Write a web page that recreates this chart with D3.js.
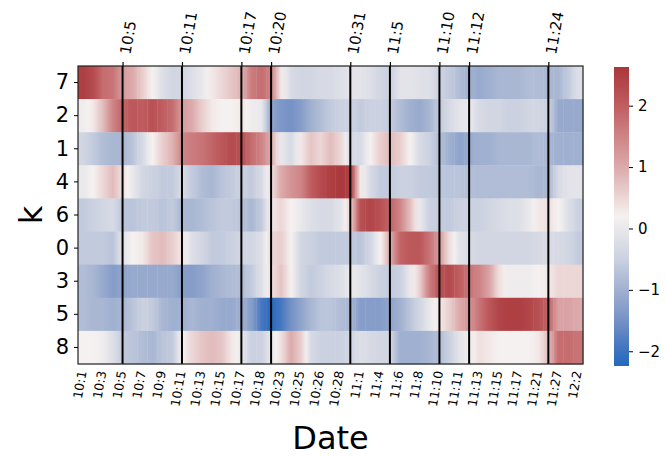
<!DOCTYPE html>
<html>
<head>
<meta charset="utf-8">
<script src="https://cdn.jsdelivr.net/npm/d3@7"></script>
<style>
  body { margin: 0; background: #fff; }
  text { font-family: "DejaVu Sans", sans-serif; }
</style>
</head>
<body>
<script>
// rows (k) top to bottom
var kRows = ["7", "2", "1", "4", "6", "0", "3", "5", "8"];

// one column per observation, every other one is labelled
var dates = ["10:1", "10:2", "10:3", "10:4", "10:5", "10:6", "10:7", "10:8", "10:9", "10:10",
  "10:11", "10:12", "10:13", "10:14", "10:15", "10:16", "10:17", "10:17", "10:18", "10:20",
  "10:23", "10:24", "10:25", "10:25", "10:26", "10:27", "10:28", "10:31", "11:1", "11:3",
  "11:4", "11:5", "11:6", "11:7", "11:8", "11:9", "11:10", "11:10", "11:11", "11:12",
  "11:13", "11:14", "11:15", "11:16", "11:17", "11:19", "11:21", "11:24", "11:27", "11:30",
  "12:2"];

// marked dates on the top axis
var events = ["10:5", "10:11", "10:17", "10:20", "10:31", "11:5", "11:10", "11:12", "11:24"];

var row7 = [2.5, 2.3, 1.8, 1.7, 1.2, 1.0, 0.6, 0.2, -0.2, -0.4, -0.4, -0.2, 0.0, 0.3, 0.5, 0.7, 0.9,
  1.6, 1.8, 1.5, 0.3, -0.3, -0.4, -0.4, -0.3, -0.3, -0.2, -0.1, -0.1, -0.2, -0.4, -0.5,
  -0.1, -0.1, -0.15, -0.2, -0.5, -0.6, -0.8, -1.0, -1.1, -1.0, -0.9, -0.9, -0.9, -0.8, -0.8, -0.9,
  -0.9, -0.6, -0.2];
var row2 = [0.1, 0.3, 0.8, 1.5, 1.9, 2.1, 2.0, 2.2, 2.0, 1.8, 1.2, 1.0, 0.6, 0.3, 0.2, 0.2, 0.3,
  0.1, 0.0, -1.2, -1.4, -1.5, -1.3, -1.0, -0.8, -0.6, -0.5, -0.5, -0.6, -0.5, -0.5, -0.6,
  -0.8, -1.0, -1.1, -0.9, -0.6, -0.3, -0.1, 0.0, -0.3, -0.4, -0.4, -0.5, -0.5, -0.4, -0.4, -0.5,
  -1.1, -1.1, -1.1];
var row1 = [-0.4, -0.6, -0.8, -0.9, -0.9, -0.7, -0.3, 0.2, 0.6, 0.9, 1.5, 1.6, 1.7, 1.9, 2.1, 2.3, 2.2,
  1.8, 1.5, 1.0, 0.0, -0.3, 0.3, 0.7, 0.5, 0.8, 0.5, -0.3, -0.3, 0.2, 0.6, 0.8,
  0.6, 0.2, -0.3, -0.5, -0.8, -1.0, -1.2, -1.1, -1.0, -1.0, -0.9, -0.9, -0.9, -0.9, -0.8, -0.9,
  -1.0, -1.0, -1.0];
var row4 = [0.0, 0.2, 0.5, 0.8, 0.4, 0.0, -0.4, -0.5, -0.6, -0.6, -0.3, -0.6, -0.8, -0.9, -0.7, -0.6, -0.5,
  -0.6, -0.3, 0.4, 1.0, 1.3, 1.5, 2.0, 2.3, 2.5, 2.6, 2.5, 0.3, -0.3, -0.6, -0.6,
  -0.5, -0.5, -0.6, -0.6, -0.7, -0.7, -0.7, -0.8, -0.8, -0.8, -0.8, -0.8, -0.8, -0.8, -0.9, -0.9,
  -0.3, -0.1, -0.1];
var row6 = [-0.6, -0.5, -0.4, -0.3, -0.7, -0.7, -0.6, -0.6, -0.7, -0.6, -0.9, -0.9, -0.8, -0.7, -0.6, -0.6, -0.7,
  -0.9, -0.6, 0.3, 0.5, 0.2, 0.0, -0.2, -0.3, -0.3, -0.1, 0.6, 2.2, 2.4, 2.2, 1.9,
  1.5, 0.8, 0.0, -0.5, -0.6, -0.6, -0.5, -0.5, -0.5, -0.4, -0.3, -0.2, -0.2, 0.0, 0.3, 0.4,
  0.2, -0.2, -0.5];
var row0 = [-0.6, -0.6, -0.6, -0.7, -0.1, 0.2, 0.3, 0.7, 0.8, 0.6, 0.3, -0.2, -0.4, -0.6, -0.6, -0.5, -0.4,
  -0.4, -0.2, 0.5, 0.6, 0.2, -0.4, -0.5, -0.6, -0.6, -0.6, -0.6, -0.7, -0.4, 0.2, 1.0,
  1.9, 2.1, 2.1, 1.7, 1.2, 0.4, -0.1, -0.3, -0.4, -0.4, -0.4, -0.4, -0.4, -0.4, -0.3, -0.3,
  -0.3, -0.4, -0.6];
var row3 = [-0.8, -0.9, -1.1, -1.3, -1.2, -1.1, -1.1, -1.1, -1.1, -1.1, -1.3, -1.3, -1.2, -1.0, -0.9, -0.8, -0.8,
  -0.6, -0.2, 0.4, 0.7, 0.2, -0.4, -0.6, -0.5, -0.3, -0.2, 0.0, -0.1, -0.3, -0.5, -0.6,
  -0.5, 0.0, 0.6, 1.6, 2.2, 2.3, 2.0, 1.7, 1.5, 1.1, 0.4, 0.1, 0.1, 0.1, 0.2, 0.3,
  0.5, 0.5, 0.5];
var row5 = [-0.8, -0.9, -0.9, -1.0, -0.9, -0.7, -0.5, -0.6, -0.9, -1.0, -1.0, -0.9, -1.0, -1.0, -1.1, -1.1, -1.0,
  -1.3, -1.9, -2.2, -1.9, -1.5, -1.2, -0.9, -0.7, -0.7, -0.8, -0.9, -1.3, -1.3, -1.3, -1.2,
  -1.0, -0.7, -0.4, 0.0, 0.3, 0.6, 1.0, 1.3, 1.7, 2.1, 2.4, 2.5, 2.5, 2.4, 2.2, 1.9,
  1.1, 1.1, 1.0];
var row8 = [0.2, 0.2, 0.1, -0.2, -0.6, -0.7, -0.8, -0.9, -0.7, -0.6, 0.2, 0.5, 0.7, 0.8, 0.7, 0.3, 0.0,
  -0.5, -0.5, 0.0, 0.4, 1.0, 0.6, -0.3, -0.5, -0.5, -0.5, -0.4, -0.2, -0.3, -0.4, -0.4,
  -1.0, -1.0, -1.0, -0.9, -0.8, -0.5, -0.1, 0.1, 0.4, 0.3, 0.2, 0.2, 0.2, 0.2, 0.3, 0.8,
  1.8, 1.8, 1.7];

var matrix = [row7, row2, row1, row4, row6, row0, row3, row5, row8];

var cbTicks = [-2, -1, 0, 1, 2];
var vmin = -2.24, vmax = 2.63;

// vlag-like colours
var cmapStops = [-2.24, -2, -1.5, -1, -0.5, 0.2, 1, 1.5, 2, 2.63];
var cmapColors = ["#2369bd", "#3c72bf", "#7591c6", "#a0b0d0", "#cbd1e0", "#f5f1f0",
  "#dcaaab", "#ce8486", "#bf5d60", "#a9373b"];

var width = 666, height = 456;
var plot = { left: 78, right: 583, top: 66, bottom: 364 };

var svg = d3.select('body')
  .append('svg')
  .attr('width', width)
  .attr('height', height)
  .style('background', '#fff');

var defs = svg.append('defs');

var color = d3.scaleLinear()
  .domain(cmapStops)
  .range(cmapColors)
  .clamp(true);

var x = d3.scaleLinear()
  .domain([0, dates.length])
  .range([plot.left, plot.right]);

var y = d3.scaleBand()
  .domain(kRows)
  .range([plot.top, plot.bottom]);

// cells, each shaded towards its neighbours
matrix.forEach(function(row, r) {
  row.forEach(function(v, i) {
    var prev = i > 0 ? row[i - 1] : v;
    var next = i < row.length - 1 ? row[i + 1] : v;
    var id = 'c' + r + '_' + i;
    var g = defs.append('linearGradient').attr('id', id);
    g.append('stop').attr('offset', '0%').attr('stop-color', color((prev + v) / 2));
    g.append('stop').attr('offset', '50%').attr('stop-color', color(v));
    g.append('stop').attr('offset', '100%').attr('stop-color', color((v + next) / 2));
  });
});

svg.append('g')
  .selectAll('g')
  .data(matrix)
  .enter()
  .append('g')
  .each(function(row, r) {
    d3.select(this).selectAll('rect')
      .data(row)
      .enter()
      .append('rect')
      .attr('x', function(d, i) { return x(i); })
      .attr('y', y(kRows[r]))
      .attr('width', function(d, i) { return x(i + 1) - x(i) + 0.4; })
      .attr('height', y.bandwidth() + 0.4)
      .attr('fill', function(d, i) { return 'url(#c' + r + '_' + i + ')'; });
  });

// event lines
var eventIdx = events.map(function(e) { return dates.indexOf(e); });
svg.append('g')
  .selectAll('line')
  .data(eventIdx)
  .enter()
  .append('line')
  .attr('x1', function(d) { return x(d + 0.5); })
  .attr('x2', function(d) { return x(d + 0.5); })
  .attr('y1', plot.top)
  .attr('y2', plot.bottom)
  .attr('stroke', '#000')
  .attr('stroke-width', 2);

// frame
svg.append('rect')
  .attr('x', plot.left)
  .attr('y', plot.top)
  .attr('width', plot.right - plot.left)
  .attr('height', plot.bottom - plot.top)
  .attr('fill', 'none')
  .attr('stroke', '#222')
  .attr('stroke-width', 1.2);

// y axis
var yAxis = svg.append('g')
  .attr('transform', `translate(${plot.left},0)`)
  .call(d3.axisLeft(y).tickSize(4).tickPadding(5));
yAxis.select('.domain').remove();
yAxis.selectAll('text').style('font-size', '21px').attr('fill', '#000');

// bottom labels, every other column
var xTicks = d3.range(0, dates.length, 2);
var xAxis = svg.append('g')
  .attr('transform', `translate(0,${plot.bottom})`)
  .call(d3.axisBottom(x)
    .tickValues(xTicks.map(function(i) { return i + 0.5; }))
    .tickFormat(function(d) { return dates[Math.floor(d)]; })
    .tickSize(0));
xAxis.select('.domain').remove();
xAxis.selectAll('text')
  .style('font-size', '12.5px')
  .attr('fill', '#000')
  .attr('text-anchor', 'end')
  .attr('x', -7)
  .attr('y', 0)
  .attr('dy', '0.35em')
  .attr('transform', 'rotate(-80)');

// top labels at the events
var topAxis = svg.append('g')
  .attr('transform', `translate(0,${plot.top})`)
  .call(d3.axisTop(x)
    .tickValues(eventIdx.map(function(i) { return i + 0.5; }))
    .tickFormat(function(d) { return dates[Math.floor(d)]; })
    .tickSize(4)
    .tickPadding(3));
topAxis.select('.domain').remove();
topAxis.selectAll('line').attr('stroke', '#000').attr('stroke-width', 1.2);
topAxis.selectAll('text')
  .style('font-size', '15px')
  .attr('fill', '#000')
  .attr('text-anchor', 'start')
  .attr('x', 12)
  .attr('y', 0)
  .attr('dy', '0.35em')
  .attr('transform', 'rotate(-80)');

// axis titles
svg.append('text')
  .attr('x', (plot.left + plot.right) / 2)
  .attr('y', 449)
  .attr('text-anchor', 'middle')
  .style('font-size', '32px')
  .text('Date');

svg.append('text')
  .attr('transform', `translate(42,${(plot.top + plot.bottom) / 2}) rotate(-90)`)
  .attr('text-anchor', 'middle')
  .style('font-size', '32px')
  .text('k');

// colour bar
var cb = { left: 614, width: 15, top: 67, bottom: 366 };
var cy = d3.scaleLinear().domain([vmin, vmax]).range([cb.bottom, cb.top]);

var cg = defs.append('linearGradient')
  .attr('id', 'cbar')
  .attr('x1', 0).attr('y1', 1).attr('x2', 0).attr('y2', 0);
d3.range(0, 41).forEach(function(j) {
  var v = vmin + (vmax - vmin) * j / 40;
  cg.append('stop').attr('offset', (j / 40 * 100) + '%').attr('stop-color', color(v));
});

svg.append('rect')
  .attr('x', cb.left)
  .attr('y', cb.top)
  .attr('width', cb.width)
  .attr('height', cb.bottom - cb.top)
  .attr('fill', 'url(#cbar)');

var cbAxis = svg.append('g')
  .attr('transform', `translate(${cb.left + cb.width},0)`)
  .call(d3.axisRight(cy)
    .tickValues(cbTicks)
    .tickFormat(function(d) { return d < 0 ? '\u2212' + Math.abs(d) : d; })
    .tickSize(4)
    .tickPadding(5));
cbAxis.select('.domain').remove();
cbAxis.selectAll('text').style('font-size', '15px').attr('fill', '#000');
</script>
</body>
</html>
